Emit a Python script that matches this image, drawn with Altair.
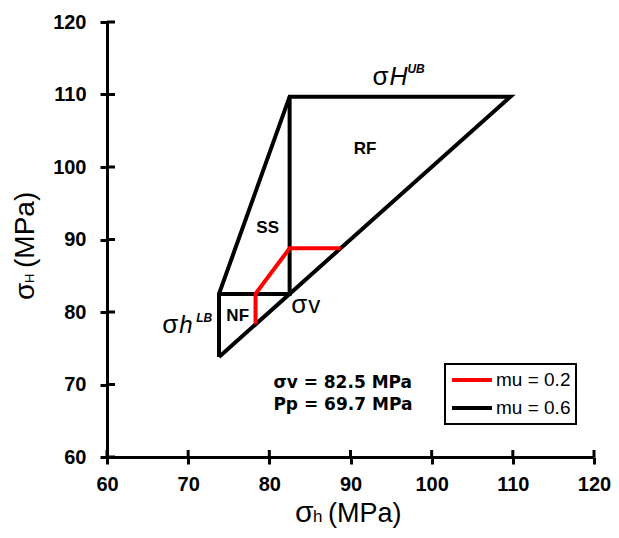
import altair as alt
import pandas as pd

FONT = "Liberation Sans"

# ---- data ----
series = ["mu = 0.2", "mu = 0.6"]
ticks = [60, 70, 80, 90, 100, 110, 120]

# mu = 0.6 (black) polygon: outer outline and inner dividers
black_outer_x = [73.8, 109.7, 82.5, 73.8, 73.8]
black_outer_y = [73.8, 109.7, 109.7, 82.5, 73.8]
black_inner_x = [73.8, 82.5, 82.5]
black_inner_y = [82.5, 82.5, 109.7]
# mu = 0.2 (red) boundary
red_x = [78.3, 78.3, 82.5, 88.8]
red_y = [78.3, 82.5, 88.8, 88.8]

region_labels = ["NF", "SS", "RF"]
region_x = [76.1, 79.8, 91.8]
region_y = [79.5, 91.6, 102.5]

info_lines = ["σv = 82.5 MPa", "Pp = 69.7 MPa"]

# ---- tables ----
rows = []
for path, xs, ys, s in [("outer", black_outer_x, black_outer_y, "mu = 0.6"),
                        ("inner", black_inner_x, black_inner_y, "mu = 0.6"),
                        ("red", red_x, red_y, "mu = 0.2")]:
    for i, (a, b) in enumerate(zip(xs, ys)):
        rows.append({"x": a, "y": b, "i": i, "path": path, "series": s})
df = pd.DataFrame(rows)
df_black = df[df.series == "mu = 0.6"]
df_red = df[df.series == "mu = 0.2"]

scale = alt.Scale(domain=[60, 120], nice=False, zero=False)


def X(f):
    return alt.X(f, type="quantitative", scale=scale, axis=alt.Axis(values=ticks, title=None))


def Y(f):
    return alt.Y(f, type="quantitative", scale=scale, axis=alt.Axis(values=ticks, title=None))


color = alt.Color(
    "series:N",
    scale=alt.Scale(domain=series, range=["#ff0000", "#000000"]),
    legend=alt.Legend(
        title=None, orient="none", legendX=338, legendY=342,
        fillColor="white", padding=5,
        symbolType="stroke", symbolSize=1600, symbolStrokeWidth=4,
        labelFont=FONT, labelFontSize=19, labelColor="black", labelOffset=2,
        clipHeight=22, rowPadding=6,
    ),
)

black = alt.Chart(df_black).mark_line(strokeWidth=4, strokeJoin="miter").encode(
    x=X("x"), y=Y("y"), detail="path:N", order="i:Q", color=color)
red = alt.Chart(df_red).mark_line(strokeWidth=4, strokeJoin="miter").encode(
    x=X("x"), y=Y("y"), detail="path:N", order="i:Q", color=color)

tick_df = pd.DataFrame({"t": ticks})
xticks_in = alt.Chart(tick_df).mark_rule(color="black", strokeWidth=3).encode(
    x=X("t"), y=alt.value(435), y2=alt.value(428))
yticks_in = alt.Chart(tick_df).mark_rule(color="black", strokeWidth=3).encode(
    y=Y("t"), x=alt.value(0), x2=alt.value(8))


def txt(text, x, y, size, dx=0, dy=0, weight="normal", style="normal",
        align="left", baseline="alphabetic", font=FONT):
    return alt.Chart(pd.DataFrame({"x": [x], "y": [y]})).mark_text(
        text=text, font=font, fontSize=size, fontWeight=weight, fontStyle=style,
        align=align, baseline=baseline, dx=dx, dy=dy, color="black"
    ).encode(x=X("x"), y=Y("y"))


def ptxt(text, px, py, size, angle=0, weight="normal", style="normal"):
    kw = dict(text=text, font=FONT, fontSize=size, fontWeight=weight,
              fontStyle=style, align="left", baseline="alphabetic", color="black")
    if angle:
        kw["angle"] = angle
    return alt.Chart(pd.DataFrame({"d": [0]})).mark_text(**kw).encode(
        x=alt.value(px), y=alt.value(py))


texts = []
# region labels
for lab, rx, ry in zip(region_labels, region_x, region_y):
    texts.append(txt(lab, rx, ry, 17, weight="bold", align="center", baseline="middle"))
# info lines
texts.append(txt(info_lines[0], 80.5, 69.5, 17, weight="bold", font="DejaVu Sans"))
texts.append(txt(info_lines[1], 80.5, 66.5, 17, weight="bold", font="DejaVu Sans"))
# sigma H UB
texts.append(txt("σ", 92.7, 111.3, 26))
texts.append(txt("H", 92.7, 111.3, 25, dx=17, style="italic"))
texts.append(txt("UB", 92.7, 111.3, 12, dx=35, dy=-12, style="italic", weight="bold"))
# sigma h LB
texts.append(txt("σ", 66.8, 77.1, 26))
texts.append(txt("h", 66.8, 77.1, 24, dx=17, style="italic"))
texts.append(txt("LB", 66.8, 77.1, 12, dx=34, dy=-11, style="italic", weight="bold"))
# sigma v
texts.append(txt("σ", 82.7, 79.9, 26))
texts.append(txt("v", 82.7, 79.9, 24, dx=17))

# axis titles (pixel positions relative to plot area)
texts.append(ptxt("σ", 188, 500, 30))
texts.append(ptxt("h", 206, 500, 17))
texts.append(ptxt("(MPa)", 221, 500, 27))
texts.append(ptxt("σ", -73, 278, 28, angle=270))
texts.append(ptxt("H", -73, 261, 13, angle=270))
texts.append(ptxt("(MPa)", -73, 246, 28, angle=270))

chart = alt.layer(black, red, xticks_in, yticks_in, *texts).properties(
    width=487, height=435,
    padding={"left": 99, "top": 14, "right": 17, "bottom": 73},
    autosize=alt.AutoSizeParams(type="none"),
).configure_axis(
    domainColor="black", domainWidth=3, tickColor="black", tickWidth=3, tickSize=7,
    labelFont=FONT, labelFontSize=20, labelFontWeight="bold", labelColor="black",
    grid=False, labelFlush=False, labelOverlap=False,
).configure_axisX(labelPadding=10).configure_axisY(labelPadding=14).configure_legend(
    strokeColor="black", strokeWidth=2,
).configure_view(stroke=None)

chart.save("out.html", embed_options={"renderer": "svg", "actions": False})
